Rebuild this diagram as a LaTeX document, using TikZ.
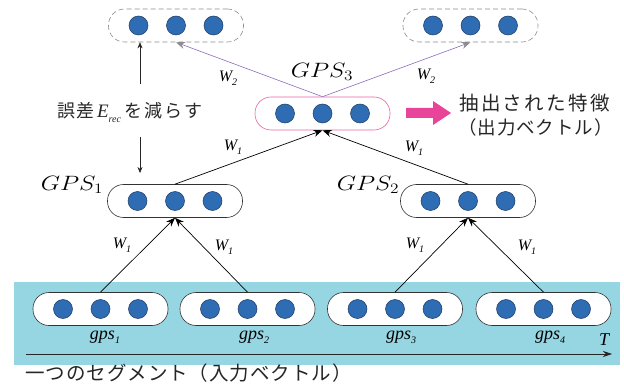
\documentclass[tikz,border=0pt]{standalone}
\usepackage{fontspec}
\usepackage{graphicx}
\usetikzlibrary{arrows.meta}
\newfontfamily\jp[LetterSpace=5]{Noto Sans CJK JP}
\newfontfamily\jpw[LetterSpace=12]{Noto Sans CJK JP}
\newfontfamily\tms{Liberation Serif}

\definecolor{unitblue}{HTML}{2E6DB4}
\definecolor{unitedge}{HTML}{1D3A66}
\definecolor{segcyan}{HTML}{96D6E3}
\definecolor{featpink}{HTML}{E8449A}
\definecolor{decgray}{HTML}{8C8C8C}
\definecolor{decviolet}{HTML}{8E6ABA}

\tikzset{
  unit/.style={circle, fill=unitblue, draw=unitedge, line width=0.5pt,
               minimum size=19pt, inner sep=0pt},
  layerbox/.style={rectangle, rounded corners=16pt, draw=black!80, fill=white,
                   line width=0.6pt, minimum width=135pt, minimum height=33pt, inner sep=0pt},
  decbox/.style={layerbox, draw=decgray, dash pattern=on 5pt off 3pt, fill=none},
  outbox/.style={layerbox, draw=featpink!85!white},
  fwd/.style={-{Stealth[length=9pt,width=7pt]}, line width=0.7pt, black},
  rec/.style={line width=0.6pt, decviolet,
              arrows={-{Stealth[length=9pt,width=7pt,color=decgray]}}},
  thin arrow/.style={-{Stealth[length=6pt,width=5pt]}, line width=0.5pt, black!85},
  wlab/.style={font=\tms\itshape\fontsize{16}{16}\selectfont, inner sep=0pt},
  slab/.style={font=\tms\itshape\fontsize{18}{18}\selectfont, inner sep=0pt},
  glab/.style={font=\fontsize{21}{21}\selectfont, inner sep=0pt},
  jlab/.style={font=\jp\fontsize{19.5}{20}\selectfont, inner sep=0pt, text=black!85}
}

% one layer: rounded box with three units inside
\newcommand{\unitlayer}[4]{%
  \node[#4] (#1) at (#2,#3) {};
  \node[unit] (#1a) at (#2-37.5,#3) {};
  \node[unit] (#1b) at (#2,#3) {};
  \node[unit] (#1c) at (#2+37.5,#3) {};
}
% italic subscript in the label fonts
\newcommand{\isub}[1]{\raisebox{-4pt}{\fontsize{10}{10}\selectfont #1}}

\begin{document}
\begin{tikzpicture}[x=1pt, y=-1pt]
\useasboundingbox (0,0) rectangle (624,385);

% input segment band
\fill[segcyan] (14,282) rectangle (620,365);

% layers
\unitlayer{decL}{176}{25.5}{decbox}
\unitlayer{decR}{470.5}{25.5}{decbox}
\unitlayer{top}{322.5}{113.5}{outbox}
\unitlayer{hidA}{175}{201}{layerbox}
\unitlayer{hidB}{468}{201}{layerbox}
\unitlayer{inA}{100.5}{309}{layerbox}
\unitlayer{inB}{247.5}{309}{layerbox}
\unitlayer{inC}{395}{309}{layerbox}
\unitlayer{inD}{543.5}{309}{layerbox}

% encoder connections
\draw[fwd] (inA.north) -- (hidA.south);
\draw[fwd] (inB.north) -- (hidA.south);
\draw[fwd] (inC.north) -- (hidB.south);
\draw[fwd] (inD.north) -- (hidB.south);
\draw[fwd] (hidA.north) -- (top.south);
\draw[fwd] (hidB.north) -- (top.south);

% reconstruction connections
\draw[rec] (top.north) -- (decL.south);
\draw[rec] (top.north) -- (decR.south);

% weight labels
\node[wlab] (w2l) at (228,78) {W\isub{2}};
\node[wlab] (w2r) at (426,76) {W\isub{2}};
\node[wlab] (w1a) at (233,147) {W\isub{1}};
\node[wlab] (w1b) at (414,148) {W\isub{1}};
\node[wlab] (w1c) at (122,245) {W\isub{1}};
\node[wlab] (w1d) at (224,247) {W\isub{1}};
\node[wlab] (w1e) at (415,245) {W\isub{1}};
\node[wlab] (w1f) at (527,247) {W\isub{1}};

% layer names
\node[glab] (n3) at (322,72) {\scalebox{1.2}[1]{$GPS_3$}};
\node[glab] (n1) at (72,185) {\scalebox{1.2}[1]{$GPS_1$}};
\node[glab] (n2) at (368,185) {\scalebox{1.2}[1]{$GPS_2$}};

\node[slab] (s1) at (105,337) {gps\isub{1}};
\node[slab] (s2) at (254,337) {gps\isub{2}};
\node[slab] (s3) at (401,337) {gps\isub{3}};
\node[slab] (s4) at (550,337) {gps\isub{4}};

% time axis
\coordinate (t0) at (26,354);
\coordinate (t1) at (612,354);
\draw[-{Stealth[length=9pt,width=6pt]}, line width=0.7pt, black!85] (t0) -- (t1);
\node[slab] (tl) at (604,340) {T};
\node[jlab, anchor=west] (seg) at (25,373) {一つのセグメント（入力ベクトル）};

% reconstruction error
\node[jlab, anchor=west, font=\jp\fontsize{18}{20}\selectfont] (err) at (57,112)
  {誤差\,{\tms\itshape\fontsize{19}{19}\selectfont E\raisebox{-5pt}{\fontsize{10}{10}\selectfont rec}}\,{\jpw を減らす}};
\coordinate (up0) at (140,84);
\coordinate (dn0) at (140,137);
\coordinate (dn1) at (140,173);
\draw[thin arrow] (up0) -- (decL.south -| up0);
\draw[thin arrow] (dn0) -- (dn1);

% extracted feature
\fill[featpink] (406,108) -- (433,108) -- (433,101) -- (451,113) -- (433,125) -- (433,118) -- (406,118) -- cycle;
\node[jlab, anchor=west, font=\jpw\fontsize{19.5}{20}\selectfont] (f1) at (459,103) {抽出された特徴};
\node[jlab, anchor=west, font=\jp\fontsize{18.5}{20}\selectfont] (f2) at (458,127) {（出力ベクトル）};
\end{tikzpicture}
\end{document}
